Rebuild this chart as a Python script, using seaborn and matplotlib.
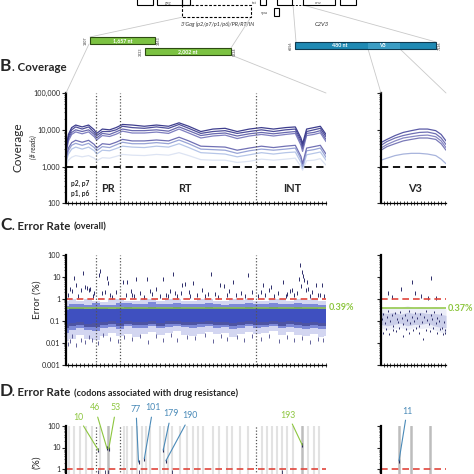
import numpy as np
import pandas as pd
import matplotlib
matplotlib.use("Agg")
import matplotlib.pyplot as plt
import seaborn as sns
from matplotlib.patches import Rectangle
from matplotlib.ticker import FixedLocator, LogLocator, NullFormatter, MultipleLocator

sns.set_style("white")
plt.rcParams['font.family'] = ['Lato', 'DejaVu Sans']

# ---------------- data ----------------
# B. coverage (HXB2 nt position, reads)
cov_pos = [1880, 1910, 1950, 2000, 2080, 2160, 2230, 2260, 2330, 2420, 2500, 2580, 2700, 2850,
           3000, 3150, 3280, 3400, 3550, 3700, 3850, 4000, 4150, 4300, 4450, 4600, 4720, 4790,
           4810, 4860, 4950, 5030, 5100]
cov_s1 = [3000, 7500, 11500, 13500, 12000, 13500, 10000, 8000, 10500, 10000, 11500, 14000, 13500, 12500,
          13500, 12500, 15500, 12500, 9000, 10500, 11000, 9000, 10500, 11500, 10500, 11500, 12000, 6000,
          4200, 10500, 11500, 12500, 7500]
cov_s2 = [2800, 6500, 10000, 12000, 10500, 12000, 8500, 7000, 9000, 9000, 10000, 12500, 11500, 11000,
          12000, 11000, 14000, 11000, 8000, 9000, 9500, 8000, 9000, 10000, 9000, 10000, 10500, 5200,
          3600, 9000, 10000, 11000, 6500]
cov_s3 = [2500, 5800, 8500, 10000, 9000, 10000, 7500, 6000, 8000, 7500, 8800, 10500, 9500, 9500,
          10000, 9200, 12000, 9500, 7000, 7800, 8200, 6800, 7800, 8500, 7800, 8500, 9000, 4500,
          3100, 8000, 8500, 9500, 5500]
cov_s4 = [2300, 5000, 7500, 8800, 7800, 8800, 6500, 5300, 7000, 6600, 7600, 9200, 8200, 8200,
          8700, 8000, 10500, 8200, 6000, 6800, 7200, 5800, 6800, 7500, 6800, 7500, 8000, 3800,
          2600, 7000, 7500, 8300, 4800]
cov_s5 = [1800, 3200, 4500, 5200, 4600, 5200, 4000, 3200, 4200, 4000, 4600, 5500, 5000, 5000,
          5300, 5000, 6300, 5000, 3600, 3500, 3400, 2800, 3200, 3600, 3300, 3600, 3800, 1900,
          1200, 3200, 3500, 3800, 2200]
cov_s6 = [1500, 2700, 3800, 4300, 3800, 4300, 3300, 2700, 3500, 3300, 3900, 4600, 4200, 4200,
          4500, 4200, 5300, 4200, 3000, 2900, 2800, 2300, 2700, 3000, 2800, 3000, 3200, 1600,
          1000, 2700, 2900, 3200, 1800]
cov_s7 = [1300, 2200, 3000, 3400, 3000, 3400, 2700, 2200, 2800, 2700, 3100, 3600, 3400, 3300,
          3600, 3400, 4200, 3300, 2400, 2300, 2200, 1850, 2100, 2400, 2200, 2400, 2500, 1300,
          900, 2100, 2300, 2500, 1500]
cov_s8 = [1100, 1500, 1800, 2000, 1850, 2000, 1700, 1450, 1750, 1700, 1900, 2150, 2050, 2000,
          2150, 2050, 2400, 2000, 1550, 1500, 1500, 1300, 1400, 1600, 1500, 1600, 1700, 1000,
          800, 1450, 1500, 1650, 1100]
cov_colors = ['#3e3e8e', '#4e4e9a', '#6868ae', '#7f7fc0', '#7070b4', '#98a4d6', '#b6c6e8', '#dde4f3']

v3_pos = [6656, 6700, 6760, 6820, 6880, 6940, 7000, 7060, 7100, 7136]
v3_s1 = [4500, 5500, 7000, 8500, 9500, 10500, 10500, 9500, 7500, 5000]
v3_s2 = [3800, 4800, 6000, 7000, 7800, 8500, 8700, 7800, 6000, 4000]
v3_s3 = [3200, 4000, 5000, 6000, 6500, 7000, 7200, 6500, 5000, 3300]
v3_s4 = [2800, 3500, 4200, 5000, 5500, 6000, 6000, 5500, 4200, 2800]
v3_s5 = [1500, 1700, 2000, 2200, 2300, 2300, 2200, 2000, 1600, 1200]
v3_colors = ['#5a5aa6', '#7070b4', '#8888c4', '#7a7ab8', '#a8b4dc']

region_bounds = [2253, 2550, 4230]          # p6|PR, PR|RT, RT|IN
cov_threshold = 1000

# C. error rate (%) - dense cloud envelope + sparse points
err_pos = [1880, 1950, 2050, 2150, 2250, 2350, 2450, 2550, 2650, 2750, 2850, 2950, 3050, 3150, 3250,
           3350, 3450, 3550, 3650, 3750, 3850, 3950, 4050, 4150, 4250, 4350, 4450, 4550, 4650, 4750,
           4850, 4950, 5050, 5100]
err_outer_lo = [0.012, 0.016, 0.022, 0.015, 0.013, 0.02, 0.028, 0.02, 0.026, 0.018, 0.027, 0.033, 0.022, 0.03, 0.034,
                0.024, 0.02, 0.027, 0.032, 0.025, 0.028, 0.019, 0.026, 0.033, 0.025, 0.029, 0.034, 0.024, 0.031, 0.022,
                0.02, 0.026, 0.018, 0.02]
err_outer_hi = [0.8, 1.0, 0.8, 0.95, 0.85, 0.75, 0.95, 1.0, 0.85, 0.8, 0.95, 1.0, 0.85, 0.95, 1.0,
                0.85, 0.8, 0.95, 1.0, 0.85, 0.8, 0.95, 0.9, 1.0, 0.85, 0.8, 0.95, 1.0, 0.85, 1.0,
                0.9, 0.95, 0.8, 0.8]
err_mid_lo = [0.03, 0.04, 0.05, 0.038, 0.035, 0.048, 0.055, 0.045, 0.058, 0.048, 0.05, 0.06, 0.046, 0.056, 0.062,
              0.052, 0.047, 0.053, 0.058, 0.048, 0.052, 0.042, 0.05, 0.058, 0.048, 0.052, 0.058, 0.047, 0.056, 0.05,
              0.043, 0.05, 0.042, 0.045]
err_mid_hi = [0.5, 0.62, 0.58, 0.52, 0.64, 0.56, 0.52, 0.63, 0.68, 0.57, 0.6, 0.7, 0.58, 0.62, 0.68,
              0.57, 0.6, 0.58, 0.67, 0.6, 0.56, 0.62, 0.58, 0.68, 0.6, 0.57, 0.66, 0.6, 0.58, 0.68,
              0.6, 0.62, 0.54, 0.52]
err_core_lo = [0.07, 0.085, 0.09, 0.075, 0.08, 0.09, 0.095, 0.085, 0.1, 0.09, 0.088, 0.105, 0.085, 0.1, 0.105,
               0.092, 0.086, 0.094, 0.1, 0.088, 0.092, 0.082, 0.09, 0.1, 0.088, 0.092, 0.1, 0.086, 0.098, 0.09,
               0.082, 0.09, 0.08, 0.082]
err_core_hi = [0.33, 0.4, 0.38, 0.35, 0.4, 0.37, 0.35, 0.41, 0.44, 0.38, 0.39, 0.44, 0.38, 0.41, 0.44,
               0.38, 0.4, 0.38, 0.43, 0.4, 0.37, 0.41, 0.39, 0.44, 0.4, 0.37, 0.43, 0.4, 0.39, 0.44,
               0.4, 0.4, 0.36, 0.35]
err_navy_lo = [0.05, 0.06, 0.065, 0.055, 0.055, 0.065, 0.07, 0.062, 0.072, 0.064, 0.066, 0.075, 0.062, 0.072, 0.076,
               0.068, 0.063, 0.07, 0.074, 0.064, 0.068, 0.058, 0.066, 0.074, 0.064, 0.068, 0.074, 0.062, 0.072, 0.066,
               0.058, 0.066, 0.058, 0.06]
err_high_pos = [1979, 2004, 2090, 2115, 2140, 2177, 2289, 2301, 2388, 2400, 2586, 2635, 2747, 2883, 3081,
                3205, 3316, 3353, 3452, 3675, 3787, 3836, 3947, 4133, 4319, 4567, 4678, 4777, 4802, 4814,
                4864, 4975, 5049,
                1900, 1960, 2030, 2160, 2210, 2330, 2450, 2500, 2620, 2680, 2720, 2800, 2850, 2950, 3000,
                3050, 3120, 3170, 3250, 3300, 3400, 3500, 3560, 3600, 3720, 3760, 3900, 3980, 4050, 4100,
                4180, 4260, 4350, 4400, 4450, 4500, 4600, 4650, 4700, 4740, 4850, 4900, 4930, 5000, 5080,
                1930, 2060, 2230, 2360, 2420, 2700, 2920, 3140, 3230, 3420, 3640, 3870, 4290, 4420, 4620,
                4760, 4790, 4830, 4880, 5020]
err_high_val = [9, 4.3, 15, 3.5, 3.2, 3, 12, 19, 9, 5.4, 6, 6, 8, 8, 8,
                13, 4.3, 4.6, 5.4, 13, 4.3, 3.8, 6, 12, 4.3, 6, 2.5, 35, 17, 11,
                6, 4.3, 4.3,
                1.5, 2.2, 1.3, 2.6, 1.4, 1.8, 1.2, 2.0, 1.6, 2.4, 1.3, 1.9, 1.2, 1.7, 2.8,
                1.4, 1.6, 2.2, 1.3, 1.8, 2.0, 1.5, 2.6, 1.3, 1.7, 1.2, 2.3, 1.5, 1.9, 1.4,
                2.1, 1.3, 1.6, 2.5, 1.4, 1.8, 1.3, 2.2, 1.5, 1.9, 2.7, 1.4, 2.0, 1.6, 1.3,
                3.0, 2.5, 1.8, 2.0, 1.6, 1.5, 2.2, 1.4, 1.9, 1.3, 1.7, 1.5, 2.1, 3.5, 1.7,
                8.0, 4.0, 7.0, 2.8, 1.6]
err_low_pos = [1900, 1930, 2000, 2060, 2120, 2200, 2280, 2420, 2520, 2700, 2900, 3080, 3260, 3480, 3700,
               3880, 4080, 4300, 4520, 4700, 4900, 5060, 1960, 2160, 2340, 2600, 2800, 3000, 3180, 3380,
               3600, 3800, 4000, 4180, 4400, 4620, 4800, 5000]
err_low_val = [0.009, 0.012, 0.008, 0.014, 0.011, 0.013, 0.01, 0.015, 0.012, 0.016, 0.011, 0.014, 0.013,
               0.017, 0.012, 0.015, 0.013, 0.016, 0.012, 0.014, 0.011, 0.013, 0.02, 0.018, 0.022, 0.019,
               0.021, 0.02, 0.023, 0.019, 0.022, 0.02, 0.018, 0.021, 0.02, 0.019, 0.017, 0.016]

v3_err_pos = [6656, 6700, 6750, 6800, 6850, 6900, 6950, 7000, 7050, 7100, 7136]
v3_err_lo = [0.05, 0.04, 0.045, 0.05, 0.04, 0.05, 0.045, 0.05, 0.04, 0.03, 0.03]
v3_err_hi = [0.45, 0.4, 0.45, 0.4, 0.5, 0.4, 0.45, 0.4, 0.45, 0.4, 0.35]
v3_err_clo = [0.07, 0.06, 0.07, 0.08, 0.06, 0.07, 0.07, 0.08, 0.06, 0.05, 0.05]
v3_err_chi = [0.25, 0.22, 0.25, 0.2, 0.25, 0.22, 0.25, 0.22, 0.22, 0.2, 0.18]
v3_high_pos = [6708, 6804, 6885, 7025, 6907, 7062, 6740, 6950, 7000]
v3_high_val = [1.9, 2.8, 6, 9, 1.9, 1.1, 1.2, 1.4, 1.1]
v3_dot_pos = [6662, 6672, 6685, 6698, 6710, 6722, 6735, 6748, 6760, 6772, 6785, 6797, 6810, 6822, 6835,
              6847, 6860, 6872, 6885, 6897, 6910, 6922, 6935, 6947, 6960, 6972, 6985, 6997, 7010, 7022,
              7035, 7047, 7060, 7072, 7085, 7097, 7110, 7122, 7130,
              6668, 6692, 6716, 6742, 6766, 6790, 6816, 6840, 6866, 6890, 6916, 6940, 6966, 6990, 7016,
              7040, 7066, 7090, 7116, 7128]
v3_dot_val = [0.12, 0.2, 0.08, 0.15, 0.3, 0.1, 0.18, 0.06, 0.22, 0.12, 0.09, 0.25, 0.14, 0.07, 0.19,
              0.11, 0.28, 0.08, 0.16, 0.1, 0.23, 0.13, 0.06, 0.2, 0.09, 0.15, 0.3, 0.11, 0.07, 0.18,
              0.12, 0.25, 0.08, 0.14, 0.1, 0.2, 0.05, 0.09, 0.04,
              0.03, 0.045, 0.025, 0.04, 0.035, 0.05, 0.02, 0.045, 0.03, 0.04, 0.05, 0.028, 0.015, 0.04, 0.035,
              0.05, 0.03, 0.042, 0.025, 0.03]
mean_err_main = 0.39
mean_err_v3 = 0.37
err_threshold = 1.0

# D. drug-resistance codons
drm_light_pos = [1917, 1979, 2053, 2128, 2202, 2301, 2598, 2635, 2697, 2759, 2821, 2870, 2920, 3044,
                 3093, 3143, 3192, 3291, 3378, 3452, 3514, 3576, 3700, 3774, 3873, 3935, 4034, 4133,
                 4306, 4368, 4430, 4492, 4554, 4616, 4690, 4876, 4950, 5012]
drm_dark_pos = [2400, 4806]
v3_drm_pos = [6789, 6877, 7018]
drm_labels = ['10', '46', '53', '77', '101', '179', '190', '193']
drm_label_pos = [2280, 2388, 2409, 2778, 2850, 3084, 3117, 4806]
drm_label_val = [7.5, 9.0, 8.5, 2.1, 3.0, 7.5, 2.4, 13.0]
drm_label_grp = ['g', 'g', 'g', 'b', 'b', 'b', 'b', 'g']
drm_small_pos = [2280, 2363, 2400, 2778, 3192, 4554]
drm_small_val = [0.75, 0.75, 0.75, 0.75, 0.75, 0.75]
v3_label = '11'
v3_label_pos = 6789
v3_label_val = 2.4

# ---------------- figure ----------------
W = H = 474
fig = plt.figure(figsize=(4.74, 4.74), dpi=100)


def rect(x0, y0, x1, y1):
    return [x0 / W, 1 - y1 / H, (x1 - x0) / W, (y1 - y0) / H]


def style(ax, xlim, ylim, yticks, ylabels):
    ax.set_yscale('log')
    ax.set_xlim(*xlim)
    ax.set_ylim(*ylim)
    ax.set_facecolor('none')
    for s in ['top', 'right']:
        ax.spines[s].set_visible(False)
    ax.spines['left'].set_linewidth(1.6)
    ax.spines['bottom'].set_linewidth(0.9)
    ax.spines['left'].set_color('black')
    ax.spines['bottom'].set_color('black')
    ax.yaxis.set_major_locator(FixedLocator(yticks))
    if ylabels is None:
        ax.yaxis.set_major_formatter(NullFormatter())
    else:
        ax.set_yticklabels(ylabels)
    ax.yaxis.set_minor_locator(LogLocator(base=10, subs=np.arange(2, 10) * 1.0, numticks=30))
    ax.yaxis.set_minor_formatter(NullFormatter())
    ax.tick_params(axis='y', which='major', length=3, width=0.8, labelsize=5.2, pad=1,
                   direction='out', left=True)
    ax.tick_params(axis='y', which='minor', length=1.5, width=0.5, left=True)
    ax.xaxis.set_major_locator(MultipleLocator(50 if xlim[1] - xlim[0] > 1000 else 25))
    ax.tick_params(axis='x', which='major', length=2.2, width=0.6, direction='inout',
                   labelbottom=False, bottom=True)
    ax.set_xlabel('')
    ax.set_ylabel('')


main_xlim = (1880, 5100)
v3_xlim = (6656, 7136)
cov_ticks = [100, 1000, 10000, 100000]
cov_labels = ['100', '1,000', '10,000', '100,000']
err_ticks = [0.001, 0.01, 0.1, 1, 10, 100]
err_labels = ['0.001', '0.01', '0.1', '1', '10', '100']
d_labels = ['', '', '', '1', '10', '100']

red = '#e0463c'
green = '#8dc63f'
blue_lab = '#4a8ab8'

# ---- B ----
axB = fig.add_axes(rect(66, 93, 326, 203.5))
axBv = fig.add_axes(rect(381, 93, 446, 203.5))
for ax in (axB, axBv):
    ax.set_yscale('log')

cov_lines = [cov_s8, cov_s7, cov_s6, cov_s5, cov_s4, cov_s3, cov_s2, cov_s1]
cov_df = pd.DataFrame({
    'pos': np.tile(cov_pos, len(cov_lines)),
    'reads': np.concatenate(cov_lines),
    'sample': np.repeat([f's{i}' for i in range(len(cov_lines))], len(cov_pos)),
})
sns.lineplot(data=cov_df, x='pos', y='reads', hue='sample', palette=cov_colors[::-1],
             legend=False, lw=0.9, ax=axB, estimator=None, sort=False)
v3_lines = [v3_s5, v3_s4, v3_s3, v3_s2, v3_s1]
v3_df = pd.DataFrame({
    'pos': np.tile(v3_pos, len(v3_lines)),
    'reads': np.concatenate(v3_lines),
    'sample': np.repeat([f'v{i}' for i in range(len(v3_lines))], len(v3_pos)),
})
sns.lineplot(data=v3_df, x='pos', y='reads', hue='sample', palette=v3_colors[::-1],
             legend=False, lw=0.9, ax=axBv, estimator=None, sort=False)

style(axB, main_xlim, (100, 100000), cov_ticks, cov_labels)
style(axBv, v3_xlim, (100, 100000), cov_ticks, None)
for ax in (axB, axBv):
    ax.axhline(cov_threshold, color='black', lw=1.3, dashes=(4, 2.6))
for b in region_bounds:
    axB.axvline(b, color='#555555', lw=0.9, ls=(0, (1, 1.5)))

# ---- C ----
axC = fig.add_axes(rect(66, 255, 326, 365))
axCv = fig.add_axes(rect(381, 255, 446, 365))
for ax in (axC, axCv):
    ax.set_yscale('log')
axC.fill_between(err_pos, err_outer_lo, err_outer_hi, color='#d3d6f1', lw=0, step='mid')
axC.fill_between(err_pos, err_mid_lo, err_mid_hi, color='#7d89d8', lw=0, step='mid')
axC.fill_between(err_pos, err_core_lo, err_core_hi, color='#3f50c0', lw=0, step='mid')
axC.fill_between(err_pos, err_navy_lo, err_core_lo, color='#262a78', lw=0, alpha=0.55, step='mid')
sns.scatterplot(x=err_high_pos, y=err_high_val, marker='|', s=10, color='#2c2c6a',
                linewidth=0.7, ax=axC)
sns.scatterplot(x=err_low_pos, y=err_low_val, marker='|', s=5, color='#4a4a8a',
                linewidth=0.6, ax=axC)

axCv.fill_between(v3_err_pos, v3_err_lo, v3_err_hi, color='#eceef8', lw=0)
axCv.fill_between(v3_err_pos, v3_err_clo, v3_err_chi, color='#c2c6e6', lw=0, alpha=0.8)
sns.scatterplot(x=v3_dot_pos, y=v3_dot_val, marker='|', s=3, color='#2c2c6a',
                linewidth=0.7, ax=axCv)
sns.scatterplot(x=v3_high_pos, y=v3_high_val, marker='|', s=10, color='#2c2c6a',
                linewidth=0.7, ax=axCv)

style(axC, main_xlim, (0.001, 100), err_ticks, err_labels)
style(axCv, v3_xlim, (0.001, 100), err_ticks, None)
for ax, m in ((axC, mean_err_main), (axCv, mean_err_v3)):
    ax.axhline(err_threshold, color=red, lw=1.2, dashes=(4, 2.4))
    ax.axhline(m, color=green, lw=1.1)
for b in region_bounds:
    axC.axvline(b, color='#555555', lw=0.9, ls=(0, (1, 1.5)))

# ---- D ----
axD = fig.add_axes(rect(66, 426, 326, 533.5))
axDv = fig.add_axes(rect(381, 426, 446, 533.5))
for ax in (axD, axDv):
    ax.set_yscale('log')
for p in drm_light_pos:
    axD.axvline(p, color='#e2e2e2', lw=1.5, zorder=0)
for p in drm_dark_pos:
    axD.axvline(p, color='#bdbdbd', lw=1.8, zorder=0)
for p in v3_drm_pos:
    axDv.axvline(p, color='#bdbdbd', lw=1.8, zorder=0)
style(axD, main_xlim, (0.001, 100), err_ticks, d_labels)
style(axDv, v3_xlim, (0.001, 100), err_ticks, None)
for ax in (axD, axDv):
    ax.axhline(err_threshold, color=red, lw=1.2, dashes=(4, 2.4))
for b in region_bounds:
    axD.axvline(b, color='#555555', lw=0.9, ls=(0, (1, 1.5)))
sns.scatterplot(x=drm_label_pos, y=drm_label_val, marker='|', s=12, color='#2c2c5a',
                linewidth=0.8, ax=axD)
sns.scatterplot(x=drm_small_pos, y=drm_small_val, marker='|', s=6, color='#2c2c5a',
                linewidth=0.6, ax=axD)
sns.scatterplot(x=[v3_label_pos], y=[v3_label_val], marker='|', s=12, color='#2c2c5a',
                linewidth=0.8, ax=axDv)

label_xy = [(78, 417), (95, 408), (116, 408), (136, 409), (153, 408), (171, 414), (190, 416), (288, 415)]
for lab, pos, val, grp, (tx, ty) in zip(drm_labels, drm_label_pos, drm_label_val, drm_label_grp, label_xy):
    col = green if grp == 'g' else blue_lab
    axD.annotate(lab, xy=(pos, val), xytext=(tx, H - ty), textcoords='figure pixels',
                 ha='center', va='center', fontsize=6.3, color=col, annotation_clip=False,
                 arrowprops=dict(arrowstyle='-', color=col, lw=0.8, shrinkA=1, shrinkB=0))
axDv.annotate(v3_label, xy=(v3_label_pos, v3_label_val), xytext=(407, H - 411),
              textcoords='figure pixels', ha='center', va='center', fontsize=6.3, color=blue_lab,
              annotation_clip=False,
              arrowprops=dict(arrowstyle='-', color=blue_lab, lw=0.8, shrinkA=1, shrinkB=0))

# ---------------- overlay: map, titles, labels ----------------
ov = fig.add_axes([0, 0, 1, 1])
ov.set_xlim(0, W)
ov.set_ylim(H, 0)
ov.axis('off')
ov.patch.set_visible(False)

gray = '#c9c9c9'
for (x0, y0, x1, y1) in [(183, 17, 90, 37), (251, 17, 231, 48), (89, 44, 66, 93), (231, 55, 326, 93),
                         (293, 5, 296, 42), (303, 5, 436, 42), (368, 49, 381, 93), (400, 49, 446, 93)]:
    ov.plot([x0, x1], [y0, y1], color=gray, lw=0.6, zorder=0)

# genome boxes (cut at top)
for (x0, x1) in [(137, 153), (157, 182), (182, 190), (260, 266), (277, 292), (303, 335), (340, 356)]:
    ov.add_patch(Rectangle((x0, -6), x1 - x0, 11, fill=False, ec='black', lw=0.8))
ov.plot([292, 303], [5, 5], color='black', lw=0.7, ls=(0, (2, 1.5)))
ov.text(168, 2.5, 'gag', fontsize=3.2, ha='center', va='center', color='#555555')
ov.text(318, 2.5, 'env', fontsize=3.2, ha='center', va='center', color='#555555')
ov.text(254, 2.5, 'tat', fontsize=3, ha='center', va='center', color='#555555')
ov.add_patch(Rectangle((182, 5), 69, 12, fill=False, ec='black', lw=0.8, ls=(0, (2.5, 1.5))))
ov.add_patch(Rectangle((274, 8), 5, 8, fill=False, ec='black', lw=0.8))
ov.text(268, 12.5, 'vpu', fontsize=3.2, ha='right', va='center', color='#444444')
ov.text(218, 24, "3'Gag (p2/p7/p1/p6)/PR/RT/IN", fontsize=4.0, style='italic', ha='center',
        va='center', color='#333333')
ov.text(322, 24, 'C2V3', fontsize=4.2, style='italic', ha='center', va='center', color='#333333')

ov.add_patch(Rectangle((90, 37), 65, 7, fc='#7cc242', ec='#2d4a12', lw=0.8))
ov.add_patch(Rectangle((145, 48), 86, 7, fc='#7cc242', ec='#2d4a12', lw=0.8))
ov.add_patch(Rectangle((295, 42), 141, 7, fc='#1f8ab4', ec='#0f3a50', lw=0.8))
ov.add_patch(Rectangle((368, 42.5), 32, 6, fc='#3b9dc4', ec='none'))
ov.text(122.5, 40.8, '1,657 nt', fontsize=3.8, color='white', ha='center', va='center', fontweight='bold')
ov.text(188, 51.8, '2,002 nt', fontsize=3.8, color='white', ha='center', va='center', fontweight='bold')
ov.text(340, 45.8, '480 nt', fontsize=3.8, color='white', ha='center', va='center', fontweight='bold')
ov.text(382, 45.8, 'V3', fontsize=3.8, color='white', ha='center', va='center', fontweight='bold')
for (x, y, t) in [(86, 40.5, '1807'), (159, 40.5, '3463'), (141, 51.5, '3223'), (235, 51.5, '5224'),
                  (291, 45.5, '6656'), (440, 45.5, '7136')]:
    ov.text(x, y, t, fontsize=2.6, rotation=90, ha='center', va='center', color='#333333')

# panel titles
def title(y, letter, main, sub=None, x_sub=74):
    ov.text(0, y, letter, fontsize=12.5, fontweight='bold', va='baseline', ha='left')
    ov.text(12.5, y, '. ' + main, fontsize=8.3, fontweight='bold', va='baseline', ha='left')
    if sub:
        ov.text(x_sub, y, sub, fontsize=6.6, fontweight='bold', va='baseline', ha='left')

title(71, 'B', 'Coverage')
title(229.5, 'C', 'Error Rate', '(overall)')
title(395.5, 'D', 'Error Rate', '(codons associated with drug resistance)')

# y-axis labels
ov.text(18, 147, 'Coverage', fontsize=8.5, rotation=90, ha='center', va='center')
ov.text(33, 147, '(# reads)', fontsize=4.8, style='italic', rotation=90, ha='center', va='center')
ov.text(37, 300, 'Error (%)', fontsize=7.2, rotation=90, ha='center', va='center')
ov.text(37, 462, '(%)', fontsize=7.2, rotation=90, ha='center', va='center')

# region labels
ov.text(80, 183, 'p2, p7', fontsize=4.8, fontweight='bold', ha='center', va='center')
ov.text(80, 193, 'p1, p6', fontsize=4.8, fontweight='bold', ha='center', va='center')
for (x, t) in [(108, 'PR'), (185, 'RT'), (292, 'INT'), (415, 'V3')]:
    ov.text(x, 188.5, t, fontsize=7.8, fontweight='bold', ha='center', va='center')

# mean error labels
ov.text(329, 308, '0.39%', fontsize=6.6, fontweight='bold', color=green, ha='left', va='center')
ov.text(448, 308.5, '0.37%', fontsize=6.6, fontweight='bold', color=green, ha='left', va='center')

fig.savefig('out.png', dpi=100)
